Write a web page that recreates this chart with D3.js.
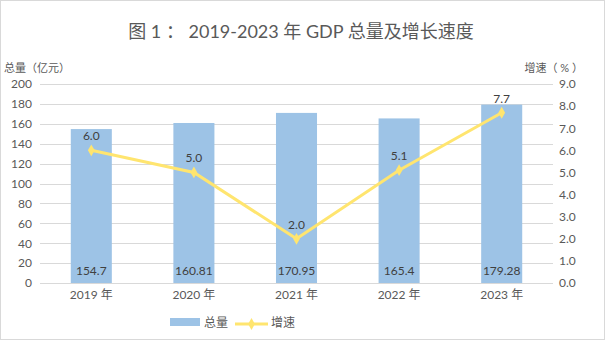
<!DOCTYPE html>
<html><head><meta charset="utf-8">
<script src="https://cdn.jsdelivr.net/npm/d3@7"></script>
<style>body{margin:0;background:#fff}svg{display:block}text{font-family:Lato,"Noto Sans CJK SC",sans-serif;fill:#595959}</style>
</head><body><svg id="c" width="605" height="340"></svg>
<script>
const categories = ["2019 年","2020 年","2021 年","2022 年","2023 年"];
const totals = [154.7,160.81,170.95,165.4,179.28];
const totalLabels = ["154.7","160.81","170.95","165.4","179.28"];
const growth = [6.0,5.0,2.0,5.1,7.7];
const leftTicks = [0,20,40,60,80,100,120,140,160,180,200];
const rightTicks = [0,1,2,3,4,5,6,7,8,9];

const svg = d3.select("#c");
const W=605,H=340;
svg.append("rect").attr("x",0.5).attr("y",0.5).attr("width",W-1).attr("height",H-1).attr("fill","#fff").attr("stroke","#d9d9d9");
const L=40,R=553,T=84,B=283;
const x = d3.scaleBand().domain(categories).range([L,R]).paddingInner(0.6).paddingOuter(0.3);
const yL = d3.scaleLinear().domain([0,200]).range([B,T]);
const yR = d3.scaleLinear().domain([0,9]).range([B,T]);

svg.append("text").attr("x",301).attr("y",38).attr("text-anchor","middle").style("font-size","18px").text("图 1 ： 2019-2023 年 GDP 总量及增长速度");

// grid
svg.append("g").selectAll("line").data(leftTicks).join("line")
 .attr("x1",L).attr("x2",R).attr("y1",d=>Math.round(yL(d))+0.5).attr("y2",d=>Math.round(yL(d))+0.5)
 .attr("stroke","#d9d9d9").attr("stroke-width",1);

const gl = svg.append("g").attr("transform",`translate(${L-4},0)`).call(d3.axisLeft(yL).tickValues(leftTicks).tickSize(0).tickPadding(4));
gl.select(".domain").remove();
gl.selectAll("text").style("font-size","12px").style("fill","#595959").style("font-family","Lato,sans-serif");
const gr = svg.append("g").attr("transform",`translate(${R+4},0)`).call(d3.axisRight(yR).tickValues(rightTicks).tickFormat(d3.format(".1f")).tickSize(0).tickPadding(2));
gr.select(".domain").remove();
gr.selectAll("text").style("font-size","12px").style("fill","#595959").style("font-family","Lato,sans-serif");

svg.append("text").attr("x",4).attr("y",72).style("font-size","11px").text("总量（亿元）");
svg.append("text").attr("x",583).attr("y",72).attr("text-anchor","end").style("font-size","11px").text("增速（ % ）");

// bars
svg.append("g").selectAll("rect").data(totals).join("rect")
 .attr("x",(d,i)=>x(categories[i])).attr("width",x.bandwidth())
 .attr("y",d=>yL(d)).attr("height",d=>B-yL(d)).attr("fill","#9dc3e6");
svg.append("g").selectAll("text").data(totalLabels).join("text")
 .attr("x",(d,i)=>x(categories[i])+x.bandwidth()/2).attr("y",B-8).attr("text-anchor","middle")
 .style("font-size","12px").style("fill","#404040").text(d=>d);

// x labels
svg.append("g").selectAll("text").data(categories).join("text")
 .attr("x",d=>x(d)+x.bandwidth()/2).attr("y",B+16).attr("text-anchor","middle").style("font-size","12px").text(d=>d);

// line
const cx = i=>x(categories[i])+x.bandwidth()/2;
svg.append("path").datum(growth).attr("fill","none").attr("stroke","#ffe56f").attr("stroke-width",3)
 .attr("d",d3.line().x((d,i)=>cx(i)).y(d=>yR(d)));
svg.append("g").selectAll("path").data(growth).join("path")
 .attr("transform",(d,i)=>`translate(${cx(i)},${yR(d)})`).attr("d",d3.symbol(d3.symbolDiamond,40)).attr("fill","#ffe56f");
svg.append("g").selectAll("text").data(growth).join("text")
 .attr("x",(d,i)=>cx(i)).attr("y",d=>yR(d)-10).attr("text-anchor","middle")
 .style("font-size","12px").style("fill","#404040").text(d=>d3.format(".1f")(d));

// legend
svg.append("rect").attr("x",170).attr("y",318).attr("width",30).attr("height",8).attr("fill","#9dc3e6");
svg.append("text").attr("x",204).attr("y",327).style("font-size","12px").text("总量");
svg.append("line").attr("x1",235).attr("x2",268).attr("y1",324).attr("y2",324).attr("stroke","#ffe56f").attr("stroke-width",3);
svg.append("path").attr("transform","translate(251.5,324)").attr("d",d3.symbol(d3.symbolDiamond,40)).attr("fill","#ffe56f");
svg.append("text").attr("x",271).attr("y",327).style("font-size","12px").text("增速");
</script></body></html>
